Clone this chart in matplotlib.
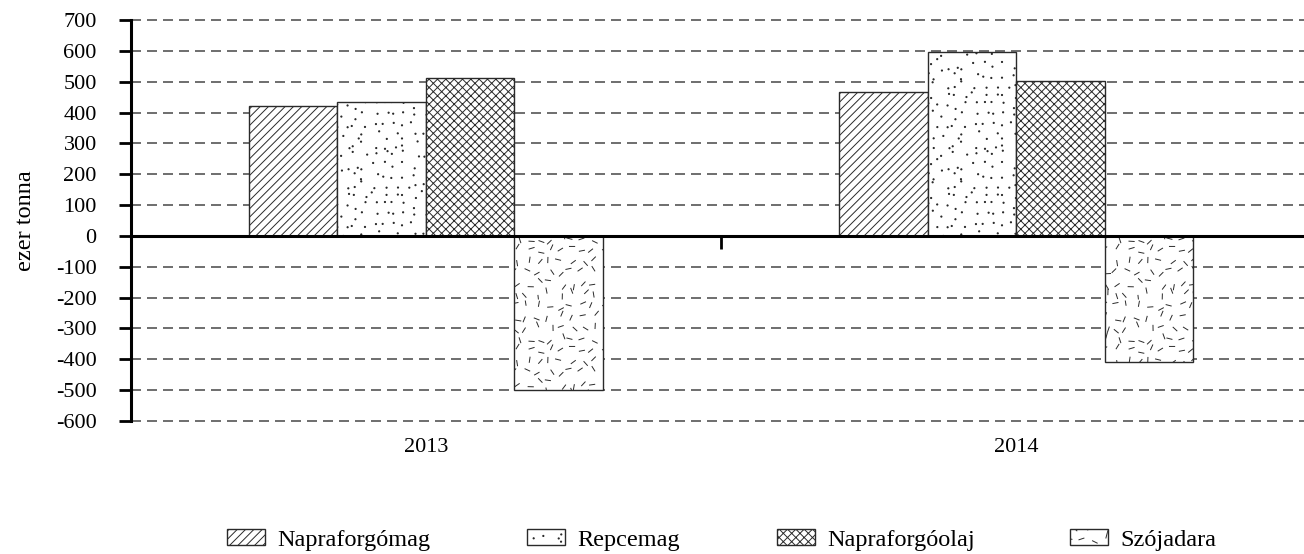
import warnings
warnings.filterwarnings('ignore')
import numpy as np
import matplotlib
matplotlib.use('Agg')
import matplotlib.pyplot as plt
import matplotlib.hatch as mhatch
from matplotlib.path import Path

# ---------------- data ----------------
years = ['2013', '2014']
series = ['Napraforgómag', 'Repcemag', 'Napraforgóolaj', 'Szójadara']
napraforgomag = [420, 467]
repcemag = [435, 595]
napraforgoolaj = [513, 503]
szojadara = [-500, -410]
y_ticks = list(range(-600, 701, 100))
y_label = 'ezer tonna'


# ---------------- custom textures (random dots / random dashes) ----------------
class RandomDots(mhatch.HatchPatternBase):
    def __init__(self, hatch, density):
        n = hatch.count('d')
        circ = Path.unit_circle()
        self.shape_vertices = circ.vertices * 0.006
        self.shape_codes = circ.codes
        if n:
            rng = np.random.default_rng(11)
            k = 10
            gx, gy = np.meshgrid(np.arange(k), np.arange(k))
            pts = (np.stack([gx.ravel(), gy.ravel()], 1) + 0.05 + 0.9 * rng.random((k * k, 2))) / k
            self.centers = np.clip(pts, 0.02, 0.98)
        else:
            self.centers = np.empty((0, 2))
        self.num_vertices = len(self.centers) * len(self.shape_vertices)

    def set_vertices_and_codes(self, vertices, codes):
        m = len(self.shape_vertices)
        for i, c in enumerate(self.centers):
            vertices[i * m:(i + 1) * m] = self.shape_vertices + c
            codes[i * m:(i + 1) * m] = self.shape_codes


class RandomDashes(mhatch.HatchPatternBase):
    def __init__(self, hatch, density):
        n = hatch.count('r')
        if n:
            rng = np.random.default_rng(5)
            k = 9
            gx, gy = np.meshgrid(np.arange(k), np.arange(k))
            c = (np.stack([gx.ravel(), gy.ravel()], 1) + 0.15 + 0.7 * rng.random((k * k, 2))) / k
            ang = rng.random(k * k) * np.pi
            half = 0.026
            d = np.stack([np.cos(ang), np.sin(ang)], 1) * half
            p0 = np.clip(c - d, 0.01, 0.99)
            p1 = np.clip(c + d, 0.01, 0.99)
            self.p0, self.p1 = p0, p1
        else:
            self.p0 = self.p1 = np.empty((0, 2))
        self.num_vertices = 2 * len(self.p0)

    def set_vertices_and_codes(self, vertices, codes):
        vertices[0::2] = self.p0
        vertices[1::2] = self.p1
        codes[0::2] = Path.MOVETO
        codes[1::2] = Path.LINETO


mhatch._hatch_types.append(RandomDots)
mhatch._hatch_types.append(RandomDashes)

# ---------------- figure ----------------
plt.rcParams['font.family'] = ['Liberation Serif', 'DejaVu Serif']
plt.rcParams['hatch.linewidth'] = 0.7
plt.rcParams['axes.unicode_minus'] = False

FS = 16      # tick labels
FS_L = 17.5  # legend and axis title
W, H = 1304, 554
fig = plt.figure(figsize=(W / 100, H / 100), dpi=100)
L = 130.75 / W
R = 1311.5 / W
B = 1 - 421 / H
T = 1 - 20 / H
ax = fig.add_axes([L, B, R - L, T - B])

x = np.arange(len(years))
w = 0.15
vals = [napraforgomag, repcemag, napraforgoolaj, szojadara]
hatches = ['////', 'd', 'xxxx', 'r']
offsets = (np.arange(len(series)) - 1.5) * w
containers = []
for v, h, off, lab in zip(vals, hatches, offsets, series):
    bc = ax.bar(x + off, v, w, facecolor='white', edgecolor='#2a2a2a',
                linewidth=1.0, hatch=h, label=lab, zorder=2)
    containers.append(bc)

ax.set_xlim(-0.5, 1.5)
ax.set_ylim(-600, 700)
ax.set_yticks(y_ticks)
ax.yaxis.grid(True, linestyle=(0, (6, 3.6)), linewidth=1.2, color='#555555')
for gl in ax.yaxis.get_gridlines():
    gl.set_clip_on(False)
ax.set_axisbelow(True)
for s in ['top', 'right']:
    ax.spines[s].set_visible(False)
ax.spines['left'].set_linewidth(2.2)
ax.spines['bottom'].set_position(('data', 0))
ax.spines['bottom'].set_linewidth(2.2)
ax.spines['bottom'].set_zorder(3)
ax.tick_params(axis='y', direction='out', length=9, width=2, pad=15.5, labelsize=FS)
ax.set_xticks([0.5])
ax.set_xticklabels([])
ax.tick_params(axis='x', direction='out', length=9.5, width=2)

sec = ax.secondary_xaxis(0)
sec.set_xticks(x, years)
sec.tick_params(length=0, pad=12, labelsize=FS)
sec.spines['bottom'].set_visible(False)

ax.set_ylabel(y_label, fontsize=FS_L)
ax.yaxis.set_label_coords(-0.080, 0.5)

# ---------------- legend (four entries at fixed positions) ----------------
leg_x = [227, 527, 777, 1070]
for bc, lab, px in zip(containers, series, leg_x):
    lg = fig.legend([bc], [lab], loc='center left', bbox_to_anchor=(px / W, 1 - 540 / H),
                    frameon=False, fontsize=FS_L, handlelength=1.56, handleheight=0.58,
                    handletextpad=0.5, borderpad=0, borderaxespad=0)

fig.savefig('out.png', dpi=100)
